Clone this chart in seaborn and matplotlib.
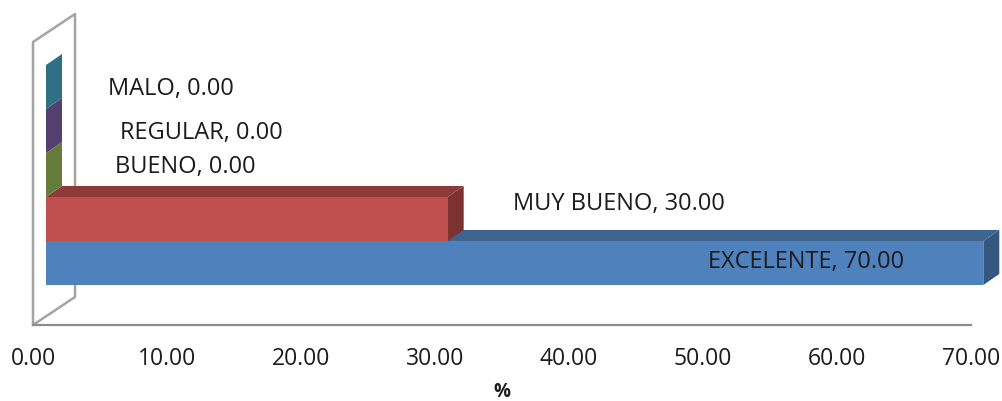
import matplotlib
matplotlib.use("Agg")
import matplotlib.pyplot as plt
from matplotlib.patches import Polygon
from matplotlib.transforms import Affine2D
import pandas as pd
import seaborn as sns

# Data
categories = ["EXCELENTE", "MUY BUENO", "BUENO", "REGULAR", "MALO"]
values = [70.0, 30.0, 0.0, 0.0, 0.0]
x_ticks = [0, 10, 20, 30, 40, 50, 60, 70]

# Colours of the fake 3D faces
front_colors = ["#4F81BD", "#C0504D", "#9BBB59", "#8064A2", "#4BACC6"]
top_colors = ["#3E6490", "#8E3A38", "#738A42", "#5E4A78", "#37808F"]
side_colors = ["#34577F", "#7C3230", "#667C3A", "#54406E", "#2F7085"]
text_color = "#1c1c1c"
frame_color = "#a3a3a3"

sns.set_theme(style="white")
plt.rcParams["font.family"] = ["Open Sans", "DejaVu Sans"]

W, H = 1003, 401
fig = plt.figure(figsize=(W / 100, H / 100), dpi=100)

# pixel coordinates of the picture, y going down
pix = Affine2D().scale(1 / W, -1 / H).translate(0, 1) + fig.transFigure

# Bars axes: covers the whole figure, 0 sits at px 46, 13.39 px per unit, 44 px per bar
px_per_unit = 13.39
px_per_band = 44
ax = fig.add_axes([0, 0, 1, 1])
ax.patch.set_alpha(0)

df = pd.DataFrame({"category": categories, "value": values})
sns.barplot(data=df, x="value", y="category", hue="category", order=categories,
            hue_order=categories, palette=front_colors, saturation=1, width=1,
            dodge=False, legend=False, ax=ax)
ax.set_xlim(-46 / px_per_unit, (W - 46) / px_per_unit)
ax.set_ylim((263 - H) / px_per_band, 263 / px_per_band)
ax.axis("off")

# Depth faces for each bar, built from the bars that seaborn drew
dx = 16 / px_per_unit
dy = 11 / px_per_band
for i, bar in enumerate(ax.patches):
    x0, y0 = bar.get_x(), bar.get_y()
    w, h = bar.get_width(), bar.get_height()
    y_low, y_high = min(y0, y0 + h), max(y0, y0 + h)
    z = 10 + i  # upper bars sit on top of the depth of the lower ones
    bar.set_zorder(z + 0.2)
    bar.set_edgecolor("none")
    ax.add_patch(Polygon([(x0 + w, y_low), (x0 + w + dx, y_low + dy),
                          (x0 + w + dx, y_high + dy), (x0 + w, y_high)],
                         facecolor=side_colors[i], edgecolor="none", zorder=z))
    if w > 0:
        ax.add_patch(Polygon([(x0, y_high), (x0 + dx, y_high + dy),
                              (x0 + w + dx, y_high + dy), (x0 + w, y_high)],
                             facecolor=top_colors[i], edgecolor="none", zorder=z))

# Side wall and floor behind the bars
ax.plot([33, 33, 75, 75, 33], [325, 42, 14, 297, 325], transform=pix,
        color=frame_color, lw=1.8, zorder=1, clip_on=False)

# Value axis on the front edge of the floor
ax2 = fig.add_axes([33 / W, 1 - 325 / H, (971 - 33) / W, 0.001])
ax2.patch.set_alpha(0)
ax2.set_xlim(0, 70)
ax2.set_xticks(x_ticks)
ax2.set_xticklabels([f"{t:.2f}" for t in x_ticks], fontsize=16.5, color=text_color)
ax2.set_yticks([])
ax2.tick_params(axis="x", length=0, pad=16)
for side in ["top", "left", "right"]:
    ax2.spines[side].set_visible(False)
ax2.spines["bottom"].set_color("#8c8c8c")
ax2.spines["bottom"].set_linewidth(1.6)
ax2.set_xlabel("%", fontsize=13.5, fontweight="bold", color=text_color, labelpad=8)

# Data labels
label_pos = [(708, 262), (513, 204), (115, 167), (120, 133), (108, 89)]
for cat, val, (lx, ly) in zip(categories, values, label_pos):
    ax.text(lx, ly, f"{cat}, {val:.2f}", transform=pix, fontsize=17, color=text_color,
            ha="left", va="center", zorder=20)

fig.savefig("out.png", dpi=100)
